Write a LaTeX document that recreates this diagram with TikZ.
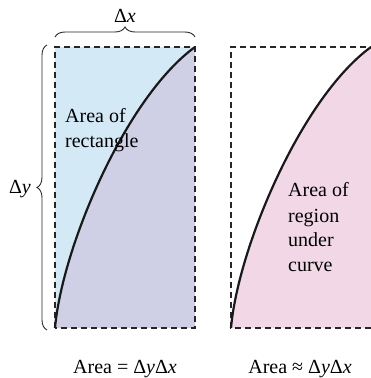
\documentclass[tikz,border=0pt]{standalone}
\usepackage{fontspec}
\setmainfont{Liberation Serif}
\usetikzlibrary{decorations.pathreplacing}
\definecolor{rectblue}{RGB}{212,233,246}
\definecolor{underpurple}{RGB}{207,207,230}
\definecolor{underpink}{RGB}{242,216,230}
\begin{document}
\begin{tikzpicture}[x=1pt,y=1pt,
  dashedbox/.style={draw=black!85,line width=1.2pt,dash pattern=on 6pt off 4pt},
  curveline/.style={draw=black!90,line width=2.2pt},
  bracestyle/.style={draw=black!85,line width=0.9pt,decorate,decoration={brace,amplitude=10pt}},
  lbl/.style={inner sep=0pt,font=\fontsize{20}{25}\selectfont,align=left}]
\useasboundingbox (0,0) rectangle (370,378);
% left rectangle
\coordinate (LA) at (55,50);
\coordinate (LB) at (195,50);
\coordinate (LC) at (195,331);
\coordinate (LD) at (55,331);
\fill[rectblue] (LA) rectangle (LC);
\fill[underpurple] (LA) .. controls (62,130) and (125,280) .. (LC) -- (LB) -- cycle;
\draw[dashedbox] (LA) rectangle (LC);
\draw[curveline] (LA) .. controls (62,130) and (125,280) .. (LC);
% right rectangle
\coordinate (RA) at (231,50);
\coordinate (RB) at (371,50);
\coordinate (RC) at (371,331);
\coordinate (RD) at (231,331);
\fill[underpink] (RA) .. controls (238,130) and (301,280) .. (RC) -- (RB) -- cycle;
\draw[dashedbox] (RB) -- (RA) -- (RD) -- (RC);
\draw[curveline] (RA) .. controls (238,130) and (301,280) .. (RC);
% braces
\coordinate (TB1) at (55,341);
\coordinate (TB2) at (195,341);
\draw[bracestyle] (TB1) -- (TB2);
\coordinate (SB1) at (47,48);
\coordinate (SB2) at (47,333);
\draw[bracestyle] (SB1) -- (SB2);
\node[lbl,anchor=base] (dx) at (125,355) {Δ\textit{x}};
\node[lbl,anchor=base] (dy) at (20,184) {Δ\textit{y}};
% texts
\node[lbl,anchor=base west] (t1) at (65,230) {Area of\\rectangle};
\node[lbl,anchor=base west] (t2) at (288,106) {Area of\\region\\under\\curve};
\node[lbl,anchor=base] (b1) at (125,5) {Area = Δ\textit{y}Δ\textit{x}};
\node[lbl,anchor=base] (b2) at (300,5) {Area ≈ Δ\textit{y}Δ\textit{x}};
\end{tikzpicture}
\end{document}
